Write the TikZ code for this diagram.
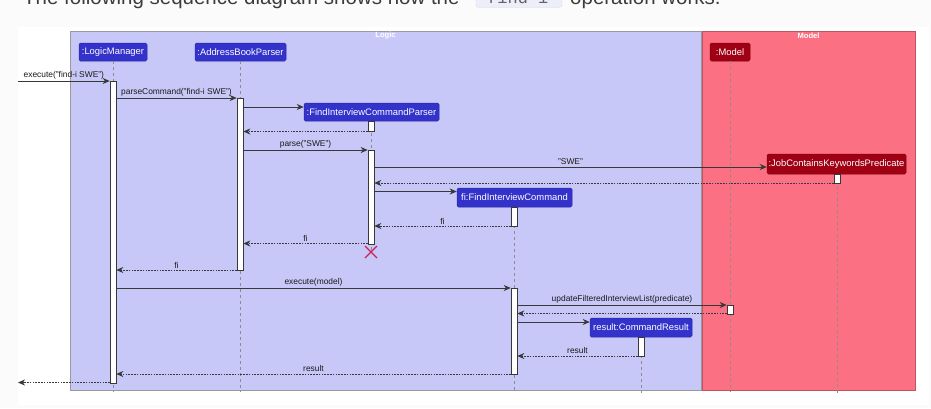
\documentclass[tikz,border=0pt]{standalone}
\usepackage{fontspec}
\setmainfont{Liberation Sans}[Ligatures={NoCommon}]
\newfontfamily\codefont{Liberation Mono}
\usetikzlibrary{arrows.meta}
\definecolor{logicbg}{RGB}{200,200,248}
\definecolor{modelbg}{RGB}{252,112,131}
\definecolor{partblue}{RGB}{51,51,204}
\definecolor{partred}{RGB}{160,0,20}
\definecolor{linegray}{RGB}{56,56,56}
\definecolor{destroyred}{RGB}{204,34,84}
\definecolor{pagebg}{RGB}{251,251,251}
\definecolor{codebg}{RGB}{238,238,250}
\definecolor{codeborder}{RGB}{218,218,234}
\definecolor{prosegray}{RGB}{60,60,60}
\begin{document}
\begin{tikzpicture}[x=1pt,y=-1pt,
  grp/.style={draw=black!40, line width=0.7pt},
  grptitle/.style={text=white, font=\fontsize{7.6}{9}\selectfont\bfseries, inner sep=0pt},
  part/.style={rounded corners=1.5pt, text=white, inner sep=0pt, minimum height=18pt,
    font=\fontsize{9.4}{11}\selectfont, line width=0.5pt},
  bluepart/.style={part, fill=partblue, draw=partblue!80!black},
  redpart/.style={part, fill=partred, draw=partred!80!black},
  life/.style={draw=black!45, line width=0.6pt, dash pattern=on 3pt off 3pt},
  act/.style={draw=linegray, fill=white, minimum width=6pt, inner sep=0pt, line width=0.6pt},
  msg/.style={draw=linegray, line width=0.8pt, -{Stealth[length=7pt,width=6pt,inset=2.2pt]}},
  ret/.style={msg, dash pattern=on 1.6pt off 1.2pt},
  lbl/.style={font=\fontsize{8.4}{10}\selectfont, text=black!90, inner sep=1.6pt},
  destroy/.style={draw=destroyred, line width=1.3pt}
]
\useasboundingbox (0,0) rectangle (931,408);
\fill[pagebg] (0,0) rectangle (931,408);
\fill[white] (18,27) rectangle (929,405);

% prose line cut at top
\begin{scope}
\clip (0,0) rectangle (931,27);
\fill[codebg, draw=codeborder, rounded corners=3pt] (476,-14) rectangle (562,7.5);
\node[anchor=base west, inner sep=0pt, text=prosegray, font=\fontsize{20.5}{24}\selectfont] (prose1) at (23,4) {The following sequence diagram shows how the};
\node[anchor=base west, inner sep=0pt, text=prosegray!80, font=\codefont\fontsize{17}{20}\selectfont] (prosecode) at (487,3.5) {find-i};
\node[anchor=base west, inner sep=0pt, text=prosegray, font=\fontsize{20.5}{24}\selectfont] (prose2) at (570,4) {operation works.};
\end{scope}

% groups
\fill[logicbg] (70,31) rectangle (701,390);
\draw[grp] (70,31) rectangle (701,390);
\fill[modelbg] (702,31) rectangle (915,390);
\draw[grp, draw=modelbg!75!black] (702,31) rectangle (915,390);
\node[grptitle] (logictitle) at (385.5,36) {Logic};
\node[grptitle] (modeltitle) at (808.5,36) {Model};

% participants
\node[bluepart, minimum width=68pt] (LM) at (113,52) {:LogicManager};
\node[bluepart, minimum width=91pt] (ABP) at (240.5,52) {:AddressBookParser};
\node[redpart, minimum width=40pt] (MOD) at (730,52) {:Model};
\node[bluepart, minimum width=135pt] (FICP) at (371.5,112) {:FindInterviewCommandParser};
\node[redpart, minimum width=139pt, minimum height=20pt] (JCKP) at (836.5,164) {:JobContainsKeywordsPredicate};
\node[bluepart, minimum width=115pt, minimum height=19pt] (FIC) at (514.5,197.5) {fi:FindInterviewCommand};
\node[bluepart, minimum width=102pt, minimum height=19pt] (CR) at (641,327.5) {result:CommandResult};

% lifelines
\draw[life] (LM.south -| 113,0) -- (113,392);
\draw[life] (ABP.south -| 240,0) -- (240,392);
\draw[life] (MOD.south) -- (730,392);
\draw[life] (FICP.south -| 371,0) -- (371,252);
\draw[life] (JCKP.south -| 837,0) -- (837,393);
\draw[life] (FIC.south -| 514,0) -- (514,392);
\draw[life] (CR.south) -- (641,393);

% activation bars
\node[act, minimum height=302pt] (aLM) at (113,232) {};
\node[act, minimum height=172pt] (aABP) at (240,184) {};
\node[act, minimum height=10pt] (aP1) at (371,126) {};
\node[act, minimum height=94pt] (aP2) at (371,197) {};
\node[act, minimum height=9pt] (aJ) at (837,178.5) {};
\node[act, minimum height=19pt] (aF1) at (514,216.5) {};
\node[act, minimum height=86pt] (aF2) at (514,331) {};
\node[act, minimum height=9pt] (aM) at (730,309.5) {};
\node[act, minimum height=19pt] (aR) at (641,346.5) {};

\coordinate (inStart) at (18,81);
\coordinate (outEnd) at (18,382.5);

% messages
\draw[msg] (inStart) -- (aLM.west |- 0,81) node[lbl, midway, above] {execute("find-i SWE")};
\draw[msg] (aLM.east |- 0,98) -- (aABP.west |- 0,98) node[lbl, midway, above] {parseCommand("find-i SWE")};
\draw[msg] (aABP.east |- 0,107) -- (FICP.west |- 0,107);
\draw[ret] (aP1.west |- 0,131.5) -- (aABP.east |- 0,131.5);
\draw[msg] (aABP.east |- 0,150) -- (aP2.west |- 0,150) node[lbl, midway, above] {parse("SWE")};
\draw[msg] (aP2.east |- 0,167) -- (JCKP.west |- 0,167) node[lbl, midway, above] {"SWE"};
\draw[ret] (aJ.west |- 0,183) -- (aP2.east |- 0,183);
\draw[msg] (aP2.east |- 0,191.5) -- (FIC.west |- 0,191.5);
\draw[ret] (aF1.west |- 0,226) -- (aP2.east |- 0,226) node[lbl, midway, above] {fi};
\draw[ret] (aP2.west |- 0,243.5) -- (aABP.east |- 0,243.5) node[lbl, midway, above] {fi};
\draw[destroy] (365,246) -- (377,258) (377,246) -- (365,258);
\draw[ret] (aABP.west |- 0,270) -- (aLM.east |- 0,270) node[lbl, midway, above] {fi};
\draw[msg] (aLM.east |- 0,288) -- (aF2.west |- 0,288) node[lbl, midway, above] {execute(model)};
\draw[msg] (aF2.east |- 0,305) -- (aM.west |- 0,305) node[lbl, midway, above] {updateFilteredInterviewList(predicate)};
\draw[ret] (aM.west |- 0,313.5) -- (aF2.east |- 0,313.5);
\draw[msg] (aF2.east |- 0,322) -- (CR.west |- 0,322);
\draw[ret] (aR.west |- 0,356) -- (aF2.east |- 0,356) node[lbl, midway, above] {result};
\draw[ret] (aF2.west |- 0,374) -- (aLM.east |- 0,374) node[lbl, midway, above] {result};
\draw[ret] (aLM.west |- 0,382.5) -- (outEnd);
\end{tikzpicture}
\end{document}
